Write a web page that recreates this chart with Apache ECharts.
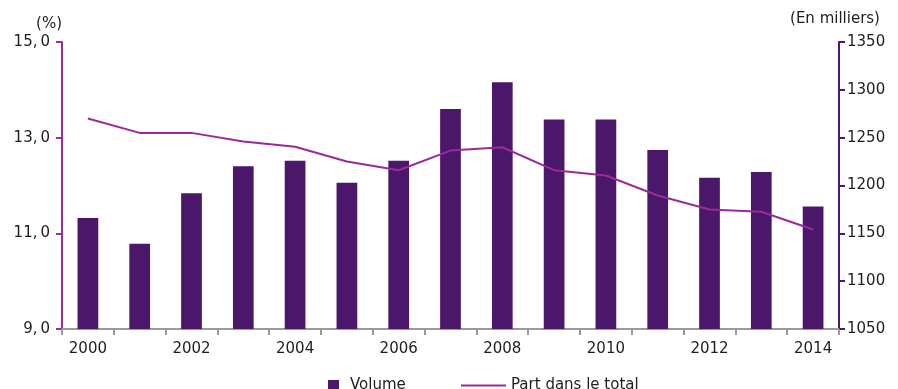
<!DOCTYPE html>
<html>
<head>
<meta charset="utf-8">
<script src="https://cdn.jsdelivr.net/npm/echarts@6/dist/echarts.min.js"></script>
<style>html,body{margin:0;padding:0;background:#fff}#c{width:898px;height:389px}</style>
</head>
<body>
<div id="c"></div>
<script>
const years = ['2000','2001','2002','2003','2004','2005','2006','2007','2008','2009','2010','2011','2012','2013','2014'];
const volume = [1166, 1139, 1192, 1220, 1226, 1203, 1226, 1280, 1308, 1269, 1269, 1237, 1208, 1214, 1178];
const part = [13.40, 13.10, 13.10, 12.92, 12.81, 12.50, 12.32, 12.73, 12.80, 12.32, 12.21, 11.79, 11.50, 11.45, 11.08];
const leftTicks = [9, 11, 13, 15];
const rightTicks = [1050, 1100, 1150, 1200, 1250, 1300, 1350];

const FONT = 'DejaVu Sans';
const TXT = '#1e1e1e';
const chart = echarts.init(document.getElementById('c'));
chart.setOption({
  animation: false,
  textStyle: { fontFamily: FONT },
  grid: { left: 62, right: 59, top: 42, bottom: 60 },
  legend: [
    { data: [{ name: 'Volume', icon: 'rect' }], left: 323, top: 373, itemWidth: 11, itemHeight: 11, itemGap: 10,
      textStyle: { fontFamily: FONT, fontSize: 15, color: TXT, padding: [0, 0, 0, 6] } },
    { data: [{ name: 'Part dans le total', icon: 'rect' }], left: 456, top: 373, itemWidth: 45, itemHeight: 2,
      textStyle: { fontFamily: FONT, fontSize: 15, color: TXT } }
  ],
  xAxis: {
    type: 'category', data: years, boundaryGap: true,
    axisLine: { lineStyle: { color: '#9a9a9a', width: 2 } },
    axisTick: { show: true, interval: 0, length: 6, lineStyle: { color: '#9a9a9a', width: 2 } },
    axisLabel: { interval: 1, margin: 13, fontSize: 15, color: TXT, fontFamily: FONT }
  },
  yAxis: [
    { type: 'value', min: leftTicks[0], max: leftTicks[leftTicks.length - 1], interval: leftTicks[1] - leftTicks[0],
      name: '(%)', nameGap: 10, nameTextStyle: { fontSize: 15, color: TXT, fontFamily: FONT, align: 'right' },
      axisLine: { show: true, lineStyle: { color: '#9b2d9b', width: 2 } },
      axisTick: { show: true, length: 6, lineStyle: { color: '#9b2d9b', width: 2 } },
      splitLine: { show: false },
      axisLabel: { fontSize: 15, color: TXT, fontFamily: FONT, margin: 12,
        formatter: v => v.toFixed(1).replace('.', ',\u2009') } },
    { type: 'value', min: rightTicks[0], max: rightTicks[rightTicks.length - 1], interval: rightTicks[1] - rightTicks[0],
      position: 'right',
      name: '(En milliers)', nameGap: 15, nameTextStyle: { fontSize: 15, color: TXT, fontFamily: FONT, align: 'center', padding: [0, 8, 0, 0] },
      axisLine: { show: true, lineStyle: { color: '#4b1a6e', width: 2 } },
      axisTick: { show: true, length: 6, lineStyle: { color: '#4b1a6e', width: 2 } },
      splitLine: { show: false },
      axisLabel: { fontSize: 15, color: TXT, fontFamily: FONT, margin: 8, formatter: v => String(v) } }
  ],
  series: [
    { name: 'Volume', type: 'bar', yAxisIndex: 1, data: volume, barWidth: '40%',
      itemStyle: { color: '#4a176a' } },
    { name: 'Part dans le total', type: 'line', yAxisIndex: 0, data: part, symbol: 'none',
      lineStyle: { color: '#9a2a99', width: 2 }, itemStyle: { color: '#9a2a99' } }
  ]
});
</script>
</body>
</html>
